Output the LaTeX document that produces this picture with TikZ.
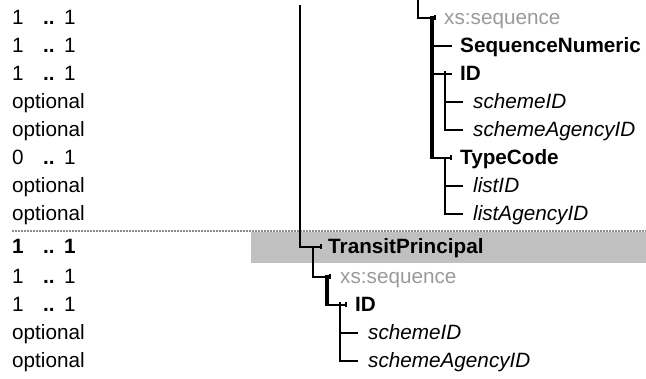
\documentclass[tikz,border=0pt]{standalone}
\usepackage{fontspec}
\setmainfont{Liberation Sans}
\begin{document}
\begin{tikzpicture}[x=1pt,y=-1pt,
  txt/.style={anchor=base west,inner sep=0pt,font=\fontsize{20.7}{24}\selectfont},
  el/.style={txt,font=\fontsize{20.7}{24}\selectfont\bfseries},
  attr/.style={txt,font=\fontsize{20.7}{24}\selectfont\itshape},
  seqtxt/.style={txt,text=seqgray},
  conn/.style={line width=2.5pt},
  seqline/.style={line width=3.5pt},
  tick/.style={line width=2pt}]
\definecolor{seqgray}{HTML}{9A9A9A}
\definecolor{bandgray}{HTML}{C0C0C0}
\definecolor{dotgray}{HTML}{8C8C8C}
\useasboundingbox (0,0) rectangle (646,379);
% band and separator
\fill[bandgray] (251,232) rectangle (646,263);
\draw[dotgray,line width=2pt,dash pattern=on 2pt off 1pt] (12,231) -- (646,231);
% left column: cardinalities
\node[txt] (c1a) at (12,25) {1};   \node[el] (c1b) at (43,25) {..}; \node[txt] (c1c) at (64,25) {1};
\node[txt] (c2a) at (12,53) {1};   \node[el] (c2b) at (43,53) {..}; \node[txt] (c2c) at (64,53) {1};
\node[txt] (c3a) at (12,81) {1};   \node[el] (c3b) at (43,81) {..}; \node[txt] (c3c) at (64,81) {1};
\node[txt] (c4) at (12,109) {optional};
\node[txt] (c5) at (12,137) {optional};
\node[txt] (c6a) at (12,165) {0};  \node[el] (c6b) at (43,165) {..}; \node[txt] (c6c) at (64,165) {1};
\node[txt] (c7) at (12,193) {optional};
\node[txt] (c8) at (12,221) {optional};
\node[el] (d1a) at (12,254) {1};   \node[el] (d1b) at (43,254) {..}; \node[el] (d1c) at (64,254) {1};
\node[txt] (d2a) at (12,284) {1};  \node[el] (d2b) at (43,284) {..}; \node[txt] (d2c) at (64,284) {1};
\node[txt] (d3a) at (12,312) {1};  \node[el] (d3b) at (43,312) {..}; \node[txt] (d3c) at (64,312) {1};
\node[txt] (d4) at (12,340) {optional};
\node[txt] (d5) at (12,368) {optional};
% top tree texts
\node[seqtxt] (seq1) at (444,25) {xs:sequence};
\node[el] (sn) at (460,53) {SequenceNumeric};
\node[el] (id1) at (460,81) {ID};
\node[attr] (sid1) at (473,109) {schemeID};
\node[attr] (said1) at (473,137) {schemeAgencyID};
\node[el] (tc) at (460,165) {TypeCode};
\node[attr] (lid) at (473,193) {listID};
\node[attr] (laid) at (473,221) {listAgencyID};
% bottom tree texts
\node[el] (tp) at (328,254) {TransitPrincipal};
\node[seqtxt] (seq2) at (340,284) {xs:sequence};
\node[el] (id2) at (355,312) {ID};
\node[attr] (sid2) at (368,340) {schemeID};
\node[attr] (said2) at (368,368) {schemeAgencyID};
% junction coordinates
\coordinate (top0) at (300,5);
\coordinate (j0) at (300,247);
\coordinate (seqtop) at (418,0);
\coordinate (js1) at (418,18);
\coordinate (es1) at (436,18);
\coordinate (v1top) at (432,16);
\coordinate (v1bot) at (432,159);
% main vertical and TransitPrincipal
\draw[conn] (top0) -- (j0) -- (322,247);
\draw[tick] (321,244.5) -- (321,249.5);
% top xs:sequence
\draw[conn] (seqtop) -- (js1) -- (es1);
\draw[tick] (435,15.5) -- (435,20.5);
\draw[seqline] (v1top) -- (v1bot);
\draw[conn] (432,46) -- (452,46);
\draw[conn] (432,74) -- (452,74);
\draw[conn] (432,158) -- (452,158);
\draw[tick] (451,155.5) -- (451,160.5);
% ID attributes
\draw[conn] (445,71.5) -- (445,130) -- (463,130);
\draw[conn] (445,102) -- (463,102);
% TypeCode attributes
\draw[conn] (445,158) -- (445,214) -- (463,214);
\draw[conn] (445,186) -- (463,186);
% bottom xs:sequence
\draw[conn] (313,247) -- (313,277) -- (331,277);
\draw[tick] (330,274.5) -- (330,279.5);
\draw[seqline] (327,275) -- (327,306);
\draw[conn] (327,305) -- (347,305);
\draw[tick] (346,302.5) -- (346,307.5);
\draw[conn] (340,302.5) -- (340,361) -- (358,361);
\draw[conn] (340,333) -- (358,333);
\end{tikzpicture}
\end{document}
